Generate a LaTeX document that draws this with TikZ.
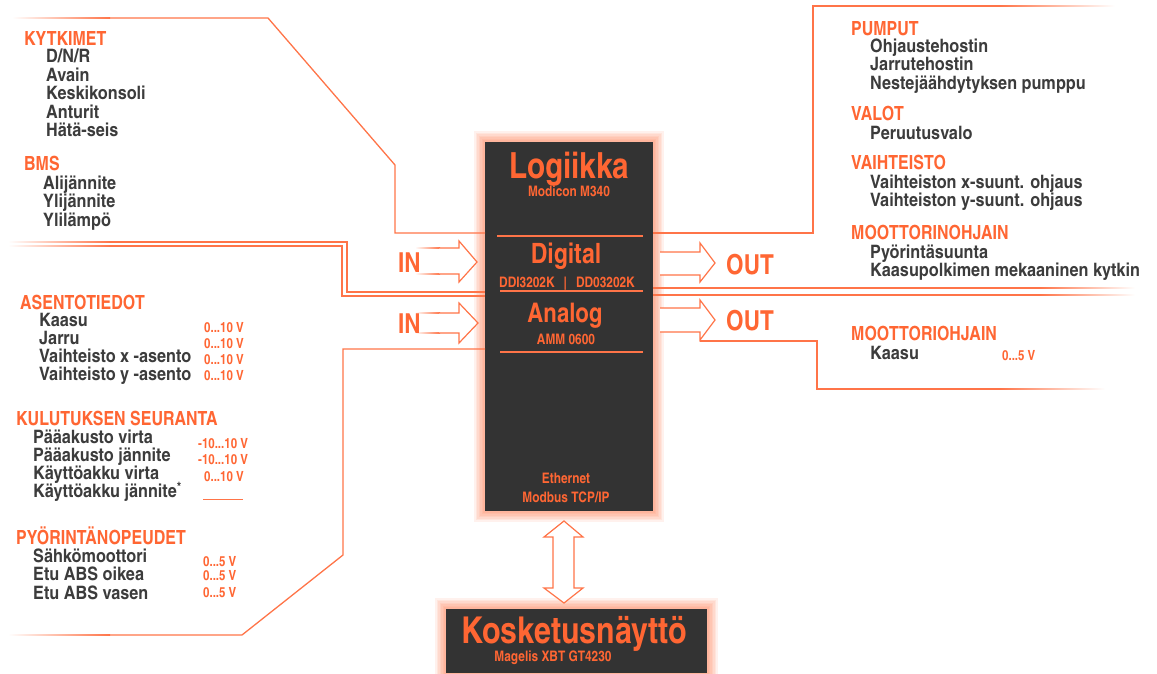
\documentclass[tikz,border=0pt]{standalone}
\usepackage{fontspec}
\setmainfont{texgyreheroscn}[Extension=.otf, UprightFont=*-bold, BoldFont=*-bold]
\newfontfamily\itemfont{texgyreheroscn}[Extension=.otf, UprightFont=*-bold, FakeStretch=1.07]
\usetikzlibrary{backgrounds}
\definecolor{acc}{HTML}{FF6633}
\definecolor{accline}{HTML}{FF7448}
\definecolor{ink}{HTML}{3C3C3C}
\definecolor{panel}{HTML}{333333}
% faded line ends: x from, x to, y
\newcommand{\fadein}[3]{\shade[left color=white,right color=accline] (#1,#3-0.65) rectangle (#2,#3+0.65);}
\newcommand{\fadeout}[3]{\shade[left color=accline,right color=white] (#1,#3-0.65) rectangle (#2,#3+0.65);}

\begin{document}
\begin{tikzpicture}[
  x=1pt, y=-1pt,
  hdr/.style={anchor=base west, inner sep=0pt, text=acc,
    font=\fontsize{19.5}{20}\selectfont},
  itm/.style={anchor=base west, inner sep=0pt, text=ink, text height=12pt, text depth=3pt,
    font=\itemfont\fontsize{18.5}{19}\selectfont},
  val/.style={anchor=base west, inner sep=0pt, text=acc,
    font=\fontsize{14}{14}\selectfont},
  io/.style={anchor=base west, inner sep=0pt, text=acc,
    font=\fontsize{27.5}{28}\selectfont},
  boxtitle/.style={anchor=base, inner sep=0pt, text=acc,
    font=\fontsize{#1}{#1}\selectfont},
  boxnote/.style={anchor=base, inner sep=0pt, text=acc,
    font=\fontsize{14.5}{15}\selectfont},
  panelbox/.style={fill=panel, draw=none, inner sep=0pt},
  wire/.style={draw=accline, line width=1.3pt},
  hollow/.style={draw=accline, line width=1.2pt, fill=white},
  glow/.style={draw=acc, opacity=0.09, line width=#1},
  ]
  \useasboundingbox (0,0) rectangle (1157,673);

  % boxes
  \node[panelbox, minimum width=168pt, minimum height=369pt] (logic) at (569,326.5) {};
  \node[panelbox, minimum width=261pt, minimum height=64pt] (hmi) at (576.5,641) {};
  \begin{scope}[on background layer]
    \foreach \g in {3,6,...,21} {
      \draw[glow=\g pt] (logic.south west) rectangle (logic.north east);
      \draw[glow=\g pt] (hmi.south west) rectangle (hmi.north east);
    }
  \end{scope}

  \node[boxtitle=36] (logtitle) at (569,178) {Logiikka};
  \node[boxnote] (logmodel) at (569,196) {Modicon M340};
  \draw[wire] (497,236) -- (643,236);
  \node[boxtitle=28] (digtitle) at (566,263) {Digital};
  \node[boxnote] (digmodel) at (567,287) {DDI3202K\hspace{9pt}|\hspace{9pt}DD03202K};
  \draw[wire] (500,291) -- (643,291);
  \node[boxtitle=27] (antitle) at (565,322) {Analog};
  \node[boxnote] (anmodel) at (566,344) {AMM 0600};
  \draw[wire] (500,352) -- (643,352);
  \node[boxnote] (eth) at (566,483) {Ethernet};
  \node[boxnote] (modbus) at (566,502) {Modbus TCP/IP};

  \node[boxtitle=37] (hmititle) at (574,643) {Kosketusnäyttö};
  \node[boxnote] (hmimodel) at (553,661) {Magelis XBT GT4230};

  % left inputs
  \fadein{12}{110}{18}
  \draw[wire] (109,18) -- (268,18) -- (395,165) -- (395,233) -- (485,233);
  \fadein{8}{110}{242}
  \fadein{8}{110}{246}
  \draw[wire] (109,242) -- (347,242) -- (347,292) -- (485,292);
  \draw[wire] (109,246) -- (342,246) -- (342,296) -- (485,296);
  \fadein{8}{110}{635}
  \draw[wire] (485,349) -- (343,349) -- (343,555) -- (242,635) -- (109,635);

  \node[hdr] (kytkimet) at (24,45) {KYTKIMET};
  \foreach \t [count=\i] in {D/N/R, Avain, Keskikonsoli, Anturit, Hätä-seis}
    \node[itm] (kyt-\i) at (46,44+18.5*\i) {\t};
  \node[hdr] (bms) at (24,170) {BMS};
  \foreach \t [count=\i] in {Alijännite, Ylijännite, Ylilämpö}
    \node[itm] (bms-\i) at (43,170.5+18.5*\i) {\t};

  \node[hdr] (asento) at (20,309) {ASENTOTIEDOT};
  \foreach \t [count=\i] in {Kaasu, Jarru, Vaihteisto x -asento, Vaihteisto y -asento} {
    \node[itm] (as-\i) at (39,307.7+18.3*\i) {\t};
    \node[val] (asv-\i) at (204,316+16*\i) {0...10 V};
  }

  \node[hdr] (kulutus) at (16,425) {KULUTUKSEN SEURANTA};
  \foreach \t [count=\i] in {Pääakusto virta, Pääakusto jännite, Käyttöakku virta,
      Käyttöakku jännite\textsuperscript{*}}
    \node[itm] (ku-\i) at (33,424.7+18.3*\i) {\t};
  \node[val] (kuv-1) at (198,448) {-10...10 V};
  \node[val] (kuv-2) at (198,464) {-10...10 V};
  \node[val] (kuv-3) at (204,481) {0...10 V};
  \draw[accline, line width=0.6pt] (203,499) -- (243,499);

  \node[hdr] (pyor) at (16,544) {PYÖRINTÄNOPEUDET};
  \foreach \t [count=\i] in {Sähkömoottori, Etu ABS oikea, Etu ABS vasen}
    \node[itm] (py-\i) at (33,543.5+18.5*\i) {\t};
  \node[val] (pyv-1) at (203,566) {0...5 V};
  \node[val] (pyv-2) at (203,580) {0...5 V};
  \node[val] (pyv-3) at (203,597) {0...5 V};

  % IN arrows
  \fadein{415}{440}{248}
  \fadein{415}{440}{274}
  \draw[hollow] (439,248) -- (459,248) -- (459,241) -- (477,262) -- (459,282) -- (459,274) -- (439,274);
  \fadein{415}{440}{313}
  \fadein{415}{440}{333}
  \draw[hollow] (439,313) -- (459,313) -- (459,303) -- (478,323) -- (459,343) -- (459,333) -- (439,333);
  \node[io] (in-1) at (398,272) {IN};
  \node[io] (in-2) at (398,333) {IN};

  % right outputs
  \draw[wire] (653,233) -- (813,233) -- (813,6) -- (1001,6);
  \fadeout{1000}{1115}{6}
  \draw[wire] (653,288) -- (1041,288);
  \draw[wire] (653,295) -- (1041,295);
  \fadeout{1040}{1135}{288}
  \fadeout{1040}{1135}{295}
  \draw[wire] (700,341) -- (817,341) -- (817,389) -- (1001,389);
  \fadeout{1000}{1105}{389}

  \draw[hollow] (660,252) -- (700,252) -- (700,243) -- (715,263) -- (700,282) -- (700,275) -- (660,275);
  \draw[hollow] (660,308) -- (700,308) -- (700,300) -- (715,320) -- (700,340) -- (700,332) -- (660,332);
  \node[io] (out-1) at (726,274) {OUT};
  \node[io] (out-2) at (726,330) {OUT};

  \node[hdr] (pumput) at (851,35) {PUMPUT};
  \foreach \t [count=\i] in {Ohjaustehostin, Jarrutehostin, Nestejäähdytyksen pumppu}
    \node[itm] (pu-\i) at (870,33.5+18.5*\i) {\t};
  \node[hdr] (valot) at (851,120) {VALOT};
  \node[itm] (va-1) at (870,139) {Peruutusvalo};
  \node[hdr] (vaiht) at (851,169) {VAIHTEISTO};
  \foreach \t [count=\i] in {Vaihteiston x-suunt. ohjaus, Vaihteiston y-suunt. ohjaus}
    \node[itm] (vh-\i) at (870,169.5+18.5*\i) {\t};
  \node[hdr] (moott) at (851,239) {MOOTTORINOHJAIN};
  \foreach \t [count=\i] in {Pyörintäsuunta, Kaasupolkimen mekaaninen kytkin}
    \node[itm] (mo-\i) at (870,239.5+18.5*\i) {\t};
  \node[hdr] (moott2) at (851,340) {MOOTTORIOHJAIN};
  \node[itm] (mo2-1) at (870,359) {Kaasu};
  \node[val] (mo2v-1) at (1002,360) {0...5 V};

  % Ethernet link
  \draw[hollow] (564,521) -- (583,537) -- (574,537) -- (574,588) -- (583,588) -- (564,603)
    -- (544,588) -- (553,588) -- (553,537) -- (544,537) -- cycle;
\end{tikzpicture}
\end{document}
